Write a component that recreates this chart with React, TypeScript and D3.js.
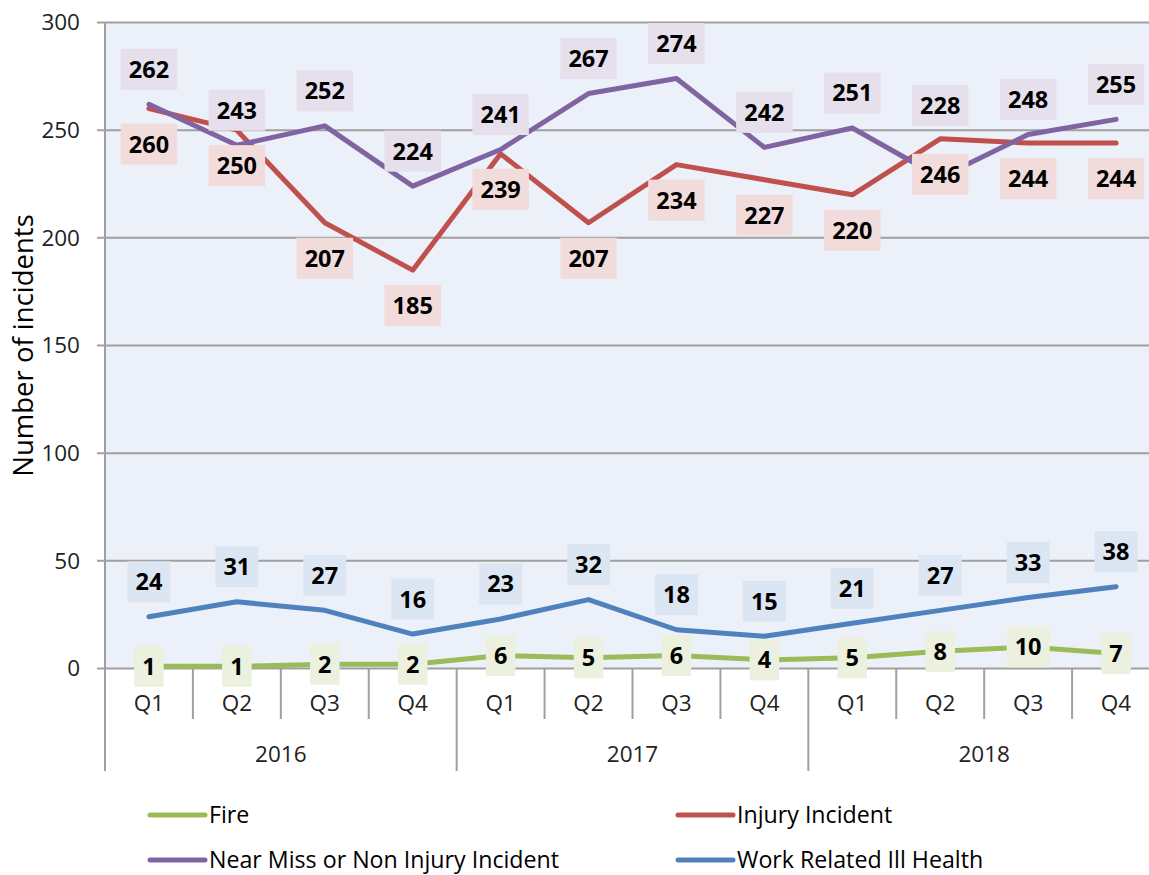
import React from "react";
import * as d3 from "d3";

const quarters = ["Q1", "Q2", "Q3", "Q4", "Q1", "Q2", "Q3", "Q4", "Q1", "Q2", "Q3", "Q4"];
const years = ["2016", "2017", "2018"];
const fire = [1, 1, 2, 2, 6, 5, 6, 4, 5, 8, 10, 7];
const injury = [260, 250, 207, 185, 239, 207, 234, 227, 220, 246, 244, 244];
const nearMiss = [262, 243, 252, 224, 241, 267, 274, 242, 251, 228, 248, 255];
const workIll = [24, 31, 27, 16, 23, 32, 18, 15, 21, 27, 33, 38];
const yTicks = [0, 50, 100, 150, 200, 250, 300];

type Series = {
  name: string;
  values: number[];
  color: string;
  labelBg: string;
  place: "above" | "below" | "center";
};

const series: Series[] = [
  { name: "Fire", values: fire, color: "#9BBB59", labelBg: "#EBF1DE", place: "center" },
  { name: "Injury Incident", values: injury, color: "#C0504D", labelBg: "#F2DCDB", place: "below" },
  { name: "Near Miss or Non Injury Incident", values: nearMiss, color: "#8064A2", labelBg: "#E5E0EC", place: "above" },
  { name: "Work Related Ill Health", values: workIll, color: "#4F81BD", labelBg: "#DCE6F2", place: "above" },
];

// extra upward nudge (px) for manually moved labels: [series name, index, px]
const labelNudges: [string, number, number][] = [["Near Miss or Non Injury Incident", 9, 37]];

const W = 1149;
const H = 875;
const left = 105;
const right = 1160;
const top = 22.5;
const bottom = 668.5;
const font = "'Open Sans', 'DejaVu Sans', sans-serif";

export default function App() {
  const idx = quarters.map((_, i) => i);
  const x = d3.scaleBand<number>().domain(idx).range([left, right]).padding(0);
  const cx = (i: number) => (x(i) as number) + x.bandwidth() / 2;
  const y = d3.scaleLinear().domain([0, 300]).range([bottom, top]);
  const line = d3
    .line<number>()
    .x((_, i) => cx(i))
    .y((v) => y(v));

  const gridColor = "#A0A0A0";
  const boundaries = d3.range(0, quarters.length + 1);

  return (
    <svg
      width={W}
      height={H}
      style={{ position: "absolute", left: 0, top: 0, background: "#fff" }}
      fontFamily={font}
    >
      <rect x={left} y={top} width={right - left} height={bottom - top} fill="#ECF0F8" />
      {yTicks.map((t) => (
        <g key={t}>
          <line x1={left - 8} x2={right} y1={y(t)} y2={y(t)} stroke={gridColor} strokeWidth={2} />
          <text x={80} y={y(t)} dy="0.35em" textAnchor="end" fontSize={22.5} fill="#222">
            {t}
          </text>
        </g>
      ))}
      <line x1={left} x2={left} y1={top} y2={771} stroke={gridColor} strokeWidth={2} />
      {boundaries.map((b) => {
        const bx = left + b * x.bandwidth();
        const isYear = b % 4 === 0;
        return (
          <line
            key={b}
            x1={bx}
            x2={bx}
            y1={bottom}
            y2={isYear ? 771 : 719}
            stroke={gridColor}
            strokeWidth={2}
          />
        );
      })}
      {quarters.map((q, i) => (
        <text key={i} x={cx(i)} y={703} dy="0.35em" textAnchor="middle" fontSize={22.5} fill="#222">
          {q}
        </text>
      ))}
      {years.map((yr, k) => (
        <text
          key={yr}
          x={left + (k * 4 + 2) * x.bandwidth()}
          y={754}
          dy="0.35em"
          textAnchor="middle"
          fontSize={22.5}
          fill="#222"
        >
          {yr}
        </text>
      ))}
      <text
        transform={`translate(23, ${(top + bottom) / 2}) rotate(-90)`}
        textAnchor="middle"
        dy="0.35em"
        fontSize={27.5}
        fill="#000"
      >
        Number of incidents
      </text>

      {series.map((s) => (
        <path
          key={s.name}
          d={line(s.values) as string}
          fill="none"
          stroke={s.color}
          strokeWidth={5}
          strokeLinejoin="round"
          strokeLinecap="round"
        />
      ))}

      {series.map((s) =>
        s.values.map((v, i) => {
          const label = String(v);
          const w = 16 + 13.5 * label.length;
          const h = 41;
          let ly = y(v);
          if (s.place === "above") ly -= 35;
          if (s.place === "below") ly += 35.5;
          const nudge = labelNudges.find((n) => n[0] === s.name && n[1] === i);
          if (nudge) ly -= nudge[2];
          return (
            <g key={s.name + i}>
              <rect x={cx(i) - w / 2} y={ly - h / 2} width={w} height={h} fill={s.labelBg} />
              <text
                x={cx(i)}
                y={ly}
                dy="0.36em"
                textAnchor="middle"
                fontSize={23.5}
                fontWeight="bold"
                fill="#000"
              >
                {label}
              </text>
            </g>
          );
        })
      )}

      {series.map((s, k) => {
        const lx = k % 2 === 0 ? 150 : 678;
        const ly = k < 2 ? 815 : 860;
        return (
          <g key={"lg" + s.name}>
            <line x1={lx} x2={lx + 55} y1={ly} y2={ly} stroke={s.color} strokeWidth={5} strokeLinecap="round" />
            <text x={lx + 59} y={ly} dy="0.35em" fontSize={23.2} fill="#000">
              {s.name}
            </text>
          </g>
        );
      })}
    </svg>
  );
}
